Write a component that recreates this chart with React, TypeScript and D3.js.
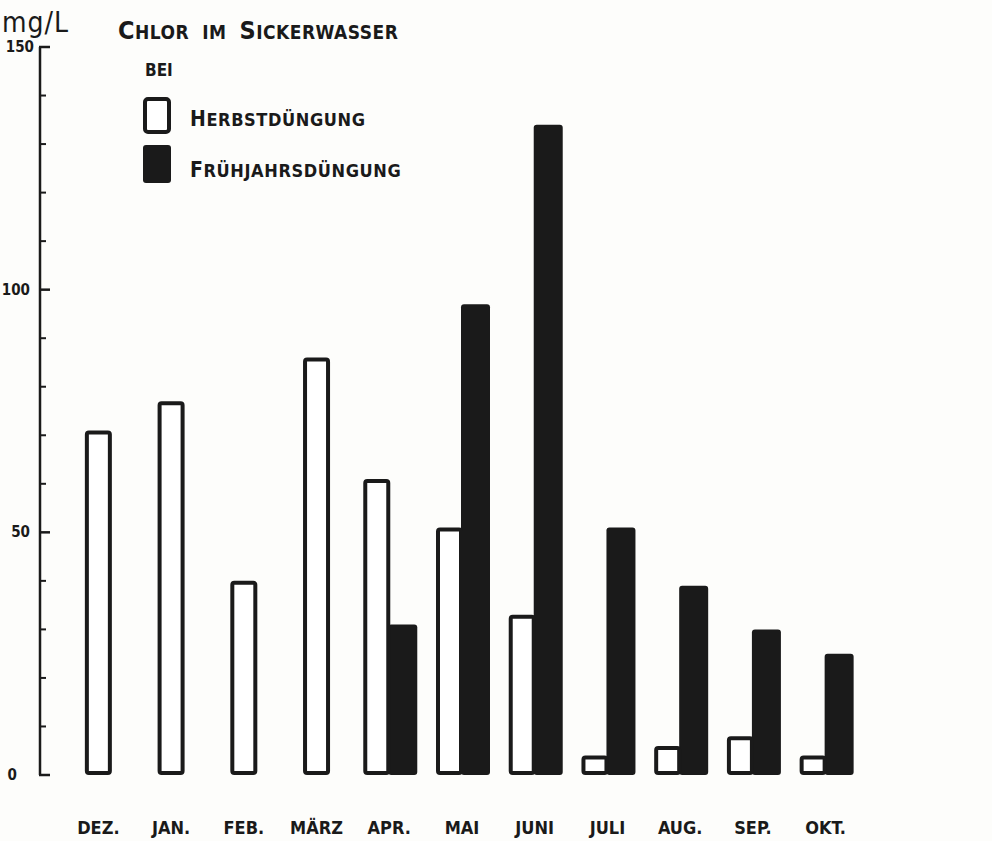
import React from "react";
import * as d3 from "d3";

const months = ["DEZ.", "JAN.", "FEB.", "MÄRZ", "APR.", "MAI", "JUNI", "JULI", "AUG.", "SEP.", "OKT."];
const herbst = [71, 77, 40, 86, 61, 51, 33, 4, 6, 8, 4];
const fruehjahr: (number | null)[] = [null, null, null, null, 31, 97, 134, 51, 39, 30, 25];
const majorTicks = [0, 50, 100, 150];
const minorTicks = d3.range(0, 151, 10).filter((v) => v % 50 !== 0);

const W = 992;
const H = 841;
const FONT = "'DejaVu Sans Condensed', 'DejaVu Sans', sans-serif";

function SmallCaps({ words, x, y, big, small, dx = 0 }: { words: { w: string; cap: boolean }[]; x: number; y: number; big: number; small: number; dx?: number }) {
  const parts: { t: string; s: number }[] = [];
  words.forEach(({ w, cap }, i) => {
    if (i > 0) parts.push({ t: "  ", s: small });
    if (cap) {
      parts.push({ t: w[0], s: big });
      if (w.length > 1) parts.push({ t: w.slice(1), s: small });
    } else {
      parts.push({ t: w, s: small });
    }
  });
  return (
    <text x={x} y={y} fontFamily={FONT} fontWeight="bold" fill="#1a1a1a" letterSpacing={dx} style={{ whiteSpace: "pre" }}>
      {parts.map((p, i) => (
        <tspan key={i} fontSize={p.s}>{p.t}</tspan>
      ))}
    </text>
  );
}

export default function App() {
  const y = d3.scaleLinear().domain([0, 150]).range([775, 47]);
  const x = d3.scaleBand<string>().domain(months).range([62, 862]).paddingInner(0).paddingOuter(0);
  const bw = 27;
  const axisX = 40;
  const ink = "#1a1a1a";

  return (
    <svg width={W} height={H} style={{ position: "absolute", left: 0, top: 0, background: "#fff" }}>
      <rect x={0} y={0} width={W} height={H} fill="#fdfdfb" />
      {/* y axis */}
      <line x1={axisX} x2={axisX} y1={y(150)} y2={y(0)} stroke={ink} strokeWidth={2.5} />
      {majorTicks.map((t) => (
        <g key={t}>
          <line x1={axisX - 1} x2={axisX + 10} y1={y(t)} y2={y(t)} stroke={ink} strokeWidth={2.5} />
          <text x={t === 0 ? 17 : t === 150 ? 34 : 30} y={y(t) + 5} textAnchor="end" fontFamily={FONT} fontWeight="bold" fontSize={15} fill={ink}>
            {t}
          </text>
        </g>
      ))}
      {minorTicks.map((t) => (
        <line key={t} x1={axisX} x2={axisX + 6} y1={y(t)} y2={y(t)} stroke={ink} strokeWidth={2} />
      ))}
      {/* titles */}
      <text x={2} y={32} fontFamily={FONT} fontSize={28} fill={ink} letterSpacing={1}>mg/L</text>
      <SmallCaps
        words={[{ w: "CHLOR", cap: true }, { w: "IM", cap: false }, { w: "SICKERWASSER", cap: true }]}
        x={118} y={39} big={25} small={19} dx={0.5}
      />
      <text x={145} y={76} fontFamily={FONT} fontWeight="bold" fontSize={17} fill={ink}>BEI</text>
      {/* legend */}
      <rect x={145} y={99} width={24} height={33} rx={3} fill="#fff" stroke={ink} strokeWidth={4} />
      <rect x={143} y={145} width={28} height={38} rx={3} fill={ink} />
      <SmallCaps words={[{ w: "HERBSTDÜNGUNG", cap: true }]} x={190} y={126} big={21} small={18} dx={0.6} />
      <SmallCaps words={[{ w: "FRÜHJAHRSDÜNGUNG", cap: true }]} x={190} y={177} big={21} small={18} dx={0.6} />
      {/* bars */}
      {months.map((m, i) => {
        const cx = (x(m) as number) + x.bandwidth() / 2;
        const paired = fruehjahr[i] !== null;
        const wx = paired ? cx - bw + 1 : cx - bw / 2;
        const hv = herbst[i];
        const fv = fruehjahr[i];
        return (
          <g key={m}>
            {fv !== null && (
              <rect x={cx - 1} y={y(fv)} width={bw + 2} height={y(0) - y(fv)} rx={3} fill={ink} />
            )}
            <rect x={wx + 2} y={y(hv) + 2} width={bw - 4} height={y(0) - y(hv) - 4} rx={2} fill="#fff" stroke={ink} strokeWidth={4} />
            <text x={cx} y={834} textAnchor="middle" fontFamily={FONT} fontWeight="bold" fontSize={18} fill={ink}>
              {m}
            </text>
          </g>
        );
      })}
    </svg>
  );
}
